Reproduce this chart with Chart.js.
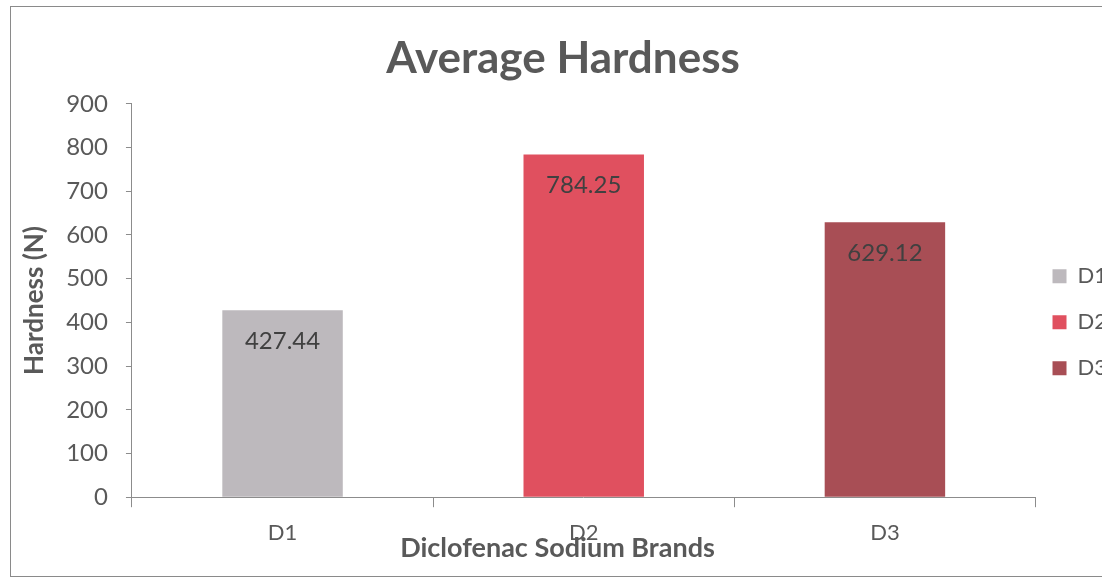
<!DOCTYPE html>
<html>
<head>
<meta charset="utf-8">
<script src="https://cdn.jsdelivr.net/npm/chart.js@4.4.1/dist/chart.umd.min.js"></script>
<style>
  html, body { margin: 0; padding: 0; background: #fff; overflow: hidden; }
  #wrap { position: relative; width: 1124px; height: 580px; }
  #frame { position: absolute; left: 10px; top: 6px; width: 1130px; height: 569px;
           border: 1px solid #8a8a8a; pointer-events: none; }
</style>
</head>
<body>
<div id="wrap">
  <canvas id="hardnessChart" width="1124" height="580"></canvas>
  <div id="frame"></div>
</div>
<script>
const categories = ['D1', 'D2', 'D3'];
const hardness = [427.44, 784.25, 629.12];
const barColors = ['#bdb9bd', '#e0505f', '#a84e55'];
const yTicks = [0, 100, 200, 300, 400, 500, 600, 700, 800, 900];

const textGrey = '#595959';
const axisGrey = '#8c8c8c';

// value labels sit just inside the top of each bar
const barLabels = {
  id: 'barLabels',
  afterDatasetsDraw(chart) {
    const ctx = chart.ctx;
    const meta = chart.getDatasetMeta(0);
    ctx.save();
    ctx.font = '24px Lato';
    ctx.fillStyle = '#404040';
    ctx.textAlign = 'center';
    ctx.textBaseline = 'middle';
    meta.data.forEach((bar, i) => {
      ctx.fillText(hardness[i].toFixed(2), bar.x, bar.y + 31);
    });
    ctx.restore();
  }
};

// pull the legend a few pixels closer to the plot
const legendNudge = {
  id: 'legendNudge',
  afterLayout(chart) {
    if (chart.legend) {
      chart.legend.left -= 7;
      chart.legend.right -= 7;
    }
  }
};

new Chart(document.getElementById('hardnessChart'), {
  type: 'bar',
  data: {
    labels: categories,
    datasets: [{
      label: 'Hardness',
      data: hardness,
      backgroundColor: barColors,
      borderWidth: 0,
      categoryPercentage: 0.8,
      barPercentage: 0.5
    }]
  },
  options: {
    responsive: false,
    animation: false,
    layout: { padding: { top: 0, left: 2, right: 0, bottom: 16 } },
    plugins: {
      title: {
        display: true,
        text: 'Average Hardness',
        color: textGrey,
        font: { family: 'Lato', size: 44, weight: 'bold' },
        padding: { top: 32, bottom: 19 }
      },
      legend: {
        position: 'right',
        title: { display: true, text: ' ', font: { size: 12 }, padding: { top: 33, bottom: 33 } },
        labels: {
          color: textGrey,
          font: { family: 'Lato', size: 22 },
          boxWidth: 14,
          boxHeight: 14,
          padding: 24,
          generateLabels() {
            return categories.map((c, i) => ({
              text: c,
              fillStyle: barColors[i],
              strokeStyle: barColors[i],
              lineWidth: 0,
              fontColor: textGrey,
              index: i
            }));
          }
        }
      },
      tooltip: { enabled: false }
    },
    scales: {
      x: {
        grid: { display: true, drawOnChartArea: false, offset: true, tickLength: 10, color: axisGrey },
        border: { display: true, color: axisGrey },
        ticks: { color: textGrey, font: { family: 'Lato', size: 22 }, padding: 13 },
        title: {
          display: true,
          // trailing spaces nudge the centred title a little left, as in the original
          text: 'Diclofenac Sodium Brands        ',
          color: textGrey,
          font: { family: 'Lato', size: 27, weight: 'bold' },
          padding: { top: -28, bottom: 0 }
        }
      },
      y: {
        min: 0,
        max: 900,
        afterBuildTicks(scale) {
          scale.ticks = yTicks.map(v => ({ value: v }));
        },
        grid: { display: true, drawOnChartArea: false, tickLength: 6, color: axisGrey },
        border: { display: true, color: axisGrey },
        ticks: { color: textGrey, font: { family: 'Lato', size: 24 }, padding: 18 },
        title: {
          display: true,
          text: 'Hardness (N)',
          color: textGrey,
          font: { family: 'Lato', size: 26, weight: 'bold' },
          padding: { top: 17, bottom: -2 }
        }
      }
    }
  },
  plugins: [barLabels, legendNudge]
});
</script>
</body>
</html>
